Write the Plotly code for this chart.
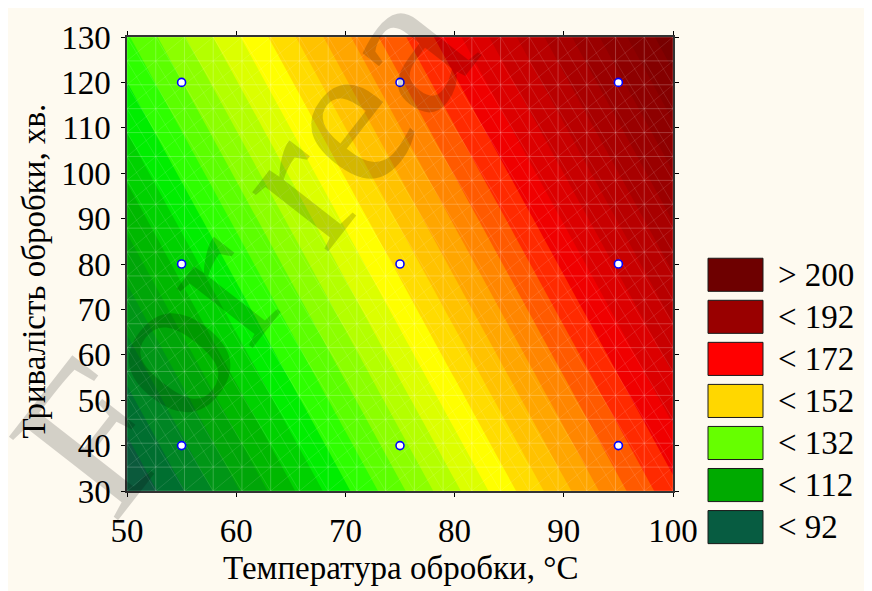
import numpy as np
import plotly.graph_objects as go

# ---- data ----
temp_grid = [50, 60, 70, 80, 90, 100]          # Температура обробки, °C
time_grid = [30, 50, 70, 90, 110, 130]         # Тривалість обробки, хв.
response = [
    [85.0, 102.4, 119.8, 137.2, 154.6, 172.0],
    [92.9, 110.3, 127.7, 145.1, 162.5, 179.9],
    [100.8, 118.2, 135.6, 153.0, 170.4, 187.8],
    [108.7, 126.1, 143.5, 160.9, 178.3, 195.7],
    [116.6, 134.0, 151.4, 168.8, 186.2, 203.6],
    [124.5, 141.9, 159.3, 176.7, 194.1, 211.5],
]

exp_temp = [55, 55, 55, 75, 75, 75, 95, 95, 95]
exp_time = [40, 80, 120, 40, 80, 120, 40, 80, 120]

legend_labels = ["> 200", "< 192", "< 172", "< 152", "< 132", "< 112", "< 92"]
legend_colors = ["#6e0000", "#990000", "#ff0000", "#ffd700", "#66ff00", "#00aa00", "#075c41"]

x_ticks = [50, 60, 70, 80, 90, 100]
y_ticks = [30, 40, 50, 60, 70, 80, 90, 100, 110, 120, 130]

# ---- style ----
band_colors = [
    "#0b5a3c", "#006f30", "#008524", "#009616", "#00a608", "#00b800",
    "#00d200", "#00ee00", "#2eff00", "#5cff00", "#8cff00", "#b4ff00",
    "#dcff00", "#ffff00", "#ffdc00", "#ffc200", "#ffa600", "#ff8600",
    "#ff5a00", "#ff2a00", "#f00000", "#dc0000", "#c80000", "#b80000",
    "#a80000", "#9a0000", "#8e0000", "#840000", "#780000",
]
c_start, c_size = 89.8, 4.4
n_levels = len(band_colors) - 1
c_end = c_start + (n_levels - 1) * c_size
colorscale = [[k / n_levels, c] for k, c in enumerate(band_colors)]
z_lo = c_start - c_size / 2
z_hi = c_start + (n_levels - 0.5) * c_size

FONT = "Liberation Serif"
CREAM = "#fefaf0"

# the page adds an 8px body margin; figure is sized to fill the rest
OFF = 8
FIG_W, FIG_H = 872 - OFF, 591 - OFF
# plot area in page pixels
PL, PT, PR, PB = 127, 34, 673, 491
L, T = PL - OFF, PT - OFF
W, H = PR - PL, PB - PT


def px(xp):
    return (xp - PL) / W


def py(yp):
    return (PB - yp) / H


fig = go.Figure()

fig.add_trace(go.Contour(
    x=temp_grid, y=time_grid, z=response,
    colorscale=colorscale, zmin=z_lo, zmax=z_hi,
    autocontour=False,
    contours=dict(start=c_start, end=c_end, size=c_size, coloring="fill"),
    line=dict(width=0),
    showscale=False, hoverinfo="skip",
))

# faint surface mesh
gx = np.linspace(temp_grid[0], temp_grid[-1], 20)
gy = np.linspace(time_grid[0], time_grid[-1], 20)
mx, my = [], []
for v in gx:
    mx += [v, v, None]; my += [gy[0], gy[-1], None]
for v in gy:
    mx += [gx[0], gx[-1], None]; my += [v, v, None]
fig.add_trace(go.Scatter(x=mx, y=my, mode="lines",
                         line=dict(color="rgba(255,255,255,0.28)", width=0.8),
                         hoverinfo="skip", showlegend=False))
dx_, dy_ = [], []
for i in range(len(gx) - 1):
    for j in range(len(gy) - 1):
        dx_ += [gx[i], gx[i + 1], None]; dy_ += [gy[j], gy[j + 1], None]
for i in range(len(gx) - 1):
    for j in range(0, len(gy) - 2):
        dx_ += [gx[i], gx[i + 1], None]; dy_ += [gy[j + 2], gy[j], None]
fig.add_trace(go.Scatter(x=dx_, y=dy_, mode="lines",
                         line=dict(color="rgba(255,255,255,0.16)", width=0.7),
                         hoverinfo="skip", showlegend=False))

fig.add_trace(go.Scatter(
    x=exp_temp, y=exp_time, mode="markers",
    marker=dict(size=8, color="white", line=dict(color="#0000ff", width=1.6)),
    showlegend=False, hoverinfo="skip",
))

shapes = []
annotations = []
box_top, pitch, box_h = 256.7, 42.33, 33.3
for i, (lab, col) in enumerate(zip(legend_labels, legend_colors)):
    t = box_top + i * pitch
    shapes.append(dict(type="rect", xref="paper", yref="paper",
                       x0=px(708), x1=px(763), y0=py(t + box_h), y1=py(t),
                       fillcolor=col, line=dict(color="#1a1a1a", width=1)))
    annotations.append(dict(xref="paper", yref="paper", x=px(776), y=py(t + box_h / 2),
                            text=lab, showarrow=False, xanchor="left", yanchor="middle",
                            font=dict(family=FONT, size=33, color="black")))

annotations.append(dict(xref="paper", yref="paper", x=0.5, y=py(569),
                        text="Температура обробки, °C", showarrow=False,
                        xanchor="center", yanchor="middle",
                        font=dict(family=FONT, size=33, color="black")))
annotations.append(dict(xref="paper", yref="paper", x=px(34), y=py(270),
                        text="Тривалість обробки, хв.", showarrow=False, textangle=-90,
                        xanchor="center", yanchor="middle",
                        font=dict(family=FONT, size=33, color="black")))
# watermark
annotations.append(dict(xref="paper", yref="paper", x=px(242), y=py(244),
                        text="For rea", showarrow=False, textangle=-52,
                        xanchor="center", yanchor="middle",
                        font=dict(family=FONT, size=210, color="rgba(0,0,0,0.17)")))

axis_common = dict(showgrid=False, zeroline=False, ticks="outside", ticklen=4,
                   tickcolor="black", showline=True, linecolor="#333333", linewidth=1.5,
                   mirror="ticks", tickfont=dict(family=FONT, size=33, color="black"))

fig.update_layout(
    width=FIG_W, height=FIG_H,
    margin=dict(l=L, r=FIG_W - L - W, t=T, b=FIG_H - T - H, pad=0),
    paper_bgcolor=CREAM, plot_bgcolor=CREAM,
    xaxis=dict(range=[50, 100], tickvals=x_ticks, ticklabelstandoff=6, **axis_common),
    yaxis=dict(range=[30, 130], tickvals=y_ticks, ticklabelstandoff=4, **axis_common),
    shapes=shapes, annotations=annotations, showlegend=False,
)

fig.write_html("out.html")
